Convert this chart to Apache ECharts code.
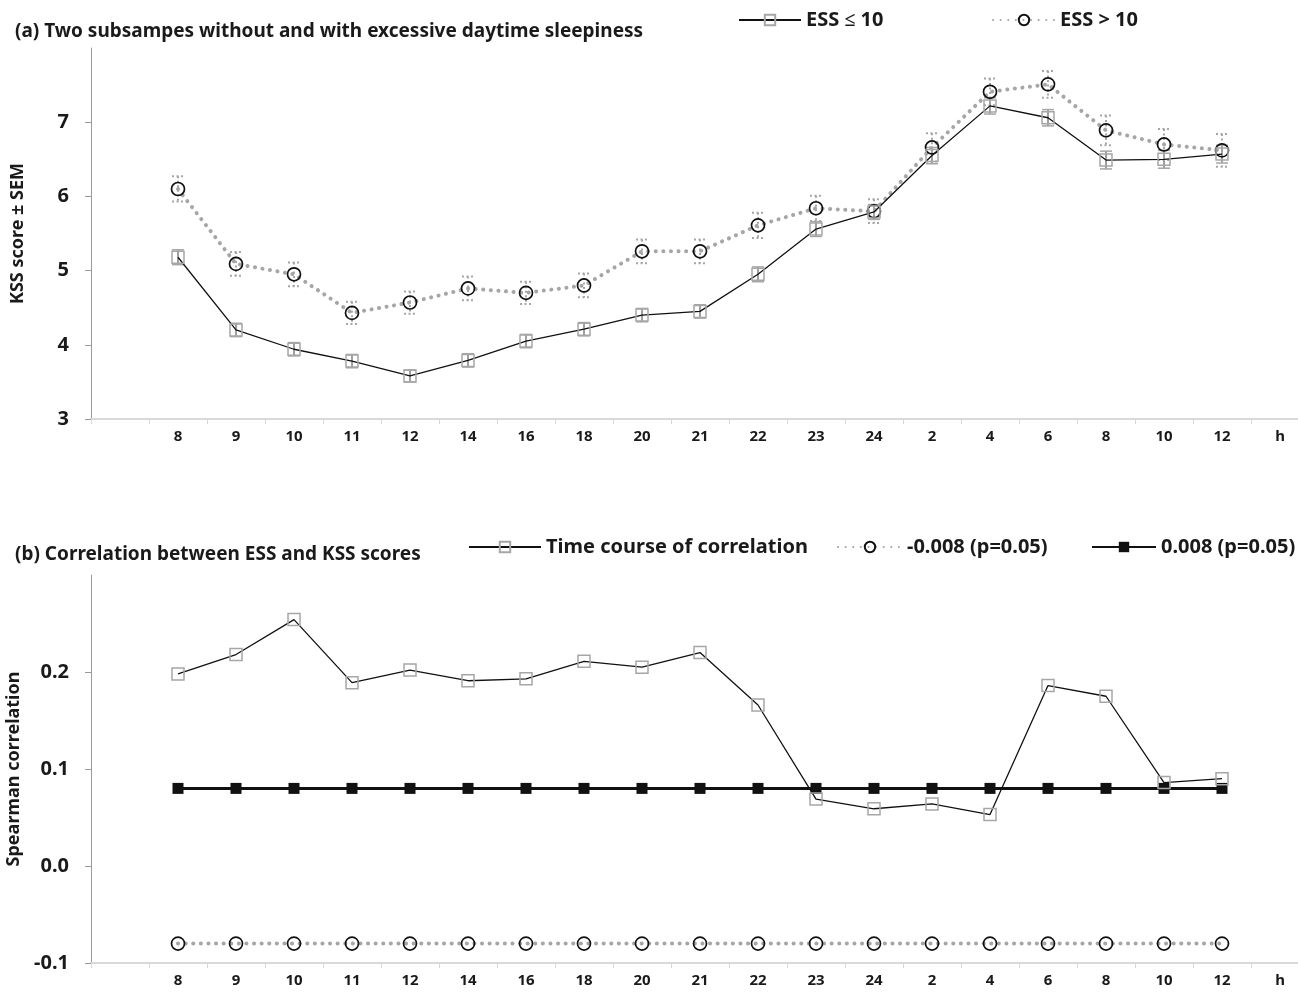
<!DOCTYPE html>
<html>
<head>
<meta charset="utf-8">
<script src="https://cdn.jsdelivr.net/npm/echarts@6/dist/echarts.min.js"></script>
<style>
  html, body { margin: 0; padding: 0; background: #fff; }
  #chart { width: 1298px; height: 992px; }
</style>
</head>
<body>
<div id="chart"></div>
<script>
// Clock hours of the sampling points (an empty slot at the start, an "h" unit slot at the end)
const hourLabels = ['8', '9', '10', '11', '12', '14', '16', '18', '20', '21', '22', '23', '24', '2', '4', '6', '8', '10', '12'];
const categories = [''].concat(hourLabels, ['h']);

// Panel (a): mean KSS score and SEM per time point
const kssLow  = [5.18, 4.20, 3.94, 3.78, 3.58, 3.79, 4.05, 4.21, 4.40, 4.45, 4.95, 5.56, 5.79, 6.55, 7.22, 7.06, 6.49, 6.50, 6.57];
const semLow  = [0.10, 0.09, 0.09, 0.09, 0.08, 0.09, 0.09, 0.09, 0.09, 0.09, 0.10, 0.10, 0.10, 0.11, 0.11, 0.11, 0.12, 0.12, 0.12];
const kssHigh = [6.10, 5.09, 4.95, 4.43, 4.57, 4.76, 4.70, 4.80, 5.26, 5.26, 5.61, 5.84, 5.80, 6.66, 7.41, 7.51, 6.89, 6.70, 6.62];
const semHigh = [0.17, 0.16, 0.16, 0.15, 0.15, 0.16, 0.15, 0.16, 0.16, 0.16, 0.17, 0.17, 0.16, 0.19, 0.18, 0.18, 0.20, 0.21, 0.22];

// Panel (b): Spearman correlation between ESS and KSS, with significance bounds
const corr       = [0.198, 0.218, 0.254, 0.189, 0.202, 0.191, 0.193, 0.211, 0.205, 0.220, 0.166, 0.069, 0.059, 0.064, 0.053, 0.186, 0.175, 0.086, 0.090];
const lowerBound = [-0.08, -0.08, -0.08, -0.08, -0.08, -0.08, -0.08, -0.08, -0.08, -0.08, -0.08, -0.08, -0.08, -0.08, -0.08, -0.08, -0.08, -0.08, -0.08];
const upperBound = [0.08, 0.08, 0.08, 0.08, 0.08, 0.08, 0.08, 0.08, 0.08, 0.08, 0.08, 0.08, 0.08, 0.08, 0.08, 0.08, 0.08, 0.08, 0.08];

const FONT = 'Noto Sans';
const INK = '#1a1a1a';
const GRAY = '#a6a6a6';

// pad a per-hour array onto the full category axis
const pad = arr => ['-'].concat(arr, ['-']);
// [categoryIndex, mean, sem] rows for the error-bar series
const errRows = (mean, sem) => mean.map((v, i) => [i + 1, v, sem[i]]);

function errorBar(dotted) {
  return function (params, api) {
    const x = api.value(0), v = api.value(1), s = api.value(2);
    const top = api.coord([x, v + s]);
    const bot = api.coord([x, v - s]);
    const half = 6;
    const capStyle = dotted
      ? { stroke: GRAY, lineWidth: 2, lineDash: [2, 2.5] }
      : { stroke: GRAY, lineWidth: 1.5 };
    const stemStyle = dotted
      ? { stroke: GRAY, lineWidth: 2, lineDash: [2, 2.5] }
      : { stroke: '#404040', lineWidth: 1 };
    return {
      type: 'group',
      children: [
        { type: 'line', shape: { x1: top[0], y1: top[1], x2: bot[0], y2: bot[1] }, style: stemStyle },
        { type: 'line', shape: { x1: top[0] - half, y1: top[1], x2: top[0] + half, y2: top[1] }, style: capStyle },
        { type: 'line', shape: { x1: bot[0] - half, y1: bot[1], x2: bot[0] + half, y2: bot[1] }, style: capStyle }
      ]
    };
  };
}

const dottedLine = { color: GRAY, width: 4, type: [0.1, 7.5], cap: 'round' };

function xAxisFor(gridIndex) {
  return {
    type: 'category', gridIndex, data: categories, boundaryGap: true,
    axisLine: { show: true, onZero: false, lineStyle: { color: '#d9d9d9', width: 2 } },
    axisTick: { show: true, length: 5, lineStyle: { color: '#d9d9d9', width: 1 } },
    axisLabel: { fontFamily: FONT, fontWeight: 'bold', fontSize: 15, color: INK, margin: 10 },
    splitLine: { show: false }
  };
}

function yAxisFor(gridIndex, name, min, max, interval, fmt) {
  return {
    type: 'value', gridIndex, min, max, interval,
    name, nameLocation: 'middle', nameRotate: 90, nameGap: 64,
    nameTextStyle: { fontFamily: FONT, fontWeight: 'bold', fontSize: 18, color: INK },
    axisLine: { show: true, lineStyle: { color: '#9a9a9a', width: 1 } },
    axisTick: { show: true, length: 6, lineStyle: { color: '#9a9a9a' } },
    axisLabel: { fontFamily: FONT, fontWeight: 'bold', fontSize: 20, color: INK, margin: 22,
                 showMaxLabel: false, formatter: fmt },
    splitLine: { show: false }
  };
}

function legendAt(left, top, name, width) {
  return {
    left, top, data: [name], itemWidth: width, itemHeight: 13, itemGap: 0,
    textStyle: { fontFamily: FONT, fontWeight: 'bold', fontSize: 20, color: INK },
    selectedMode: false
  };
}

const chart = echarts.init(document.getElementById('chart'), null, { renderer: 'canvas' });

chart.setOption({
  animation: false,
  backgroundColor: '#ffffff',
  title: [
    { text: '(a) Two subsampes without and with excessive daytime sleepiness', left: 10, top: 17,
      textStyle: { fontFamily: FONT, fontWeight: 'bold', fontSize: 19, color: INK } },
    { text: '(b) Correlation between ESS and KSS scores', left: 10, top: 540,
      textStyle: { fontFamily: FONT, fontWeight: 'bold', fontSize: 19, color: INK } }
  ],
  legend: [
    legendAt(733, 5, 'ESS ≤ 10', 62),
    legendAt(987, 5, 'ESS > 10', 62),
    legendAt(463, 532, 'Time course of correlation', 72),
    legendAt(832, 532, '-0.008 (p=0.05)', 64),
    legendAt(1086, 532, '0.008 (p=0.05)', 64)
  ],
  grid: [
    { left: 91, top: 48, width: 1218, height: 371, containLabel: false, outerBoundsMode: 'none' },
    { left: 91, top: 575, width: 1218, height: 388, containLabel: false, outerBoundsMode: 'none' }
  ],
  xAxis: [xAxisFor(0), xAxisFor(1)],
  yAxis: [
    yAxisFor(0, 'KSS score ± SEM', 3, 8, 1, v => String(v)),
    yAxisFor(1, 'Spearman correlation', -0.1, 0.3, 0.1, v => v.toFixed(1))
  ],
  series: [
    // panel (a) error bars
    { type: 'custom', name: 'semLow', xAxisIndex: 0, yAxisIndex: 0, renderItem: errorBar(false),
      data: errRows(kssLow, semLow), encode: { x: 0, y: 1 }, z: 2, silent: true },
    { type: 'custom', name: 'semHigh', xAxisIndex: 0, yAxisIndex: 0, renderItem: errorBar(true),
      data: errRows(kssHigh, semHigh), encode: { x: 0, y: 1 }, z: 2, silent: true },
    // panel (a) means
    { type: 'line', name: 'ESS > 10', xAxisIndex: 0, yAxisIndex: 0, data: pad(kssHigh),
      symbol: 'circle', symbolSize: 13, showAllSymbol: true,
      lineStyle: dottedLine,
      itemStyle: { color: 'rgba(255,255,255,0)', borderColor: '#111', borderWidth: 1.7 }, z: 3 },
    { type: 'line', name: 'ESS ≤ 10', xAxisIndex: 0, yAxisIndex: 0, data: pad(kssLow),
      symbol: 'rect', symbolSize: 12, showAllSymbol: true,
      lineStyle: { color: '#111', width: 1.3 },
      itemStyle: { color: 'rgba(255,255,255,0)', borderColor: GRAY, borderWidth: 1.5 }, z: 4 },
    // panel (b)
    { type: 'line', name: '-0.008 (p=0.05)', xAxisIndex: 1, yAxisIndex: 1, data: pad(lowerBound),
      symbol: 'circle', symbolSize: 13, showAllSymbol: true,
      lineStyle: dottedLine,
      itemStyle: { color: 'rgba(255,255,255,0)', borderColor: '#111', borderWidth: 1.7 }, z: 3 },
    { type: 'line', name: '0.008 (p=0.05)', xAxisIndex: 1, yAxisIndex: 1, data: pad(upperBound),
      symbol: 'rect', symbolSize: 11, showAllSymbol: true,
      lineStyle: { color: '#111', width: 3 },
      itemStyle: { color: '#111', borderColor: '#111', borderWidth: 0 }, z: 3 },
    { type: 'line', name: 'Time course of correlation', xAxisIndex: 1, yAxisIndex: 1, data: pad(corr),
      symbol: 'rect', symbolSize: 12, showAllSymbol: true,
      lineStyle: { color: '#111', width: 1.3 },
      itemStyle: { color: 'rgba(255,255,255,0)', borderColor: GRAY, borderWidth: 1.5 }, z: 4 }
  ]
});
</script>
</body>
</html>
